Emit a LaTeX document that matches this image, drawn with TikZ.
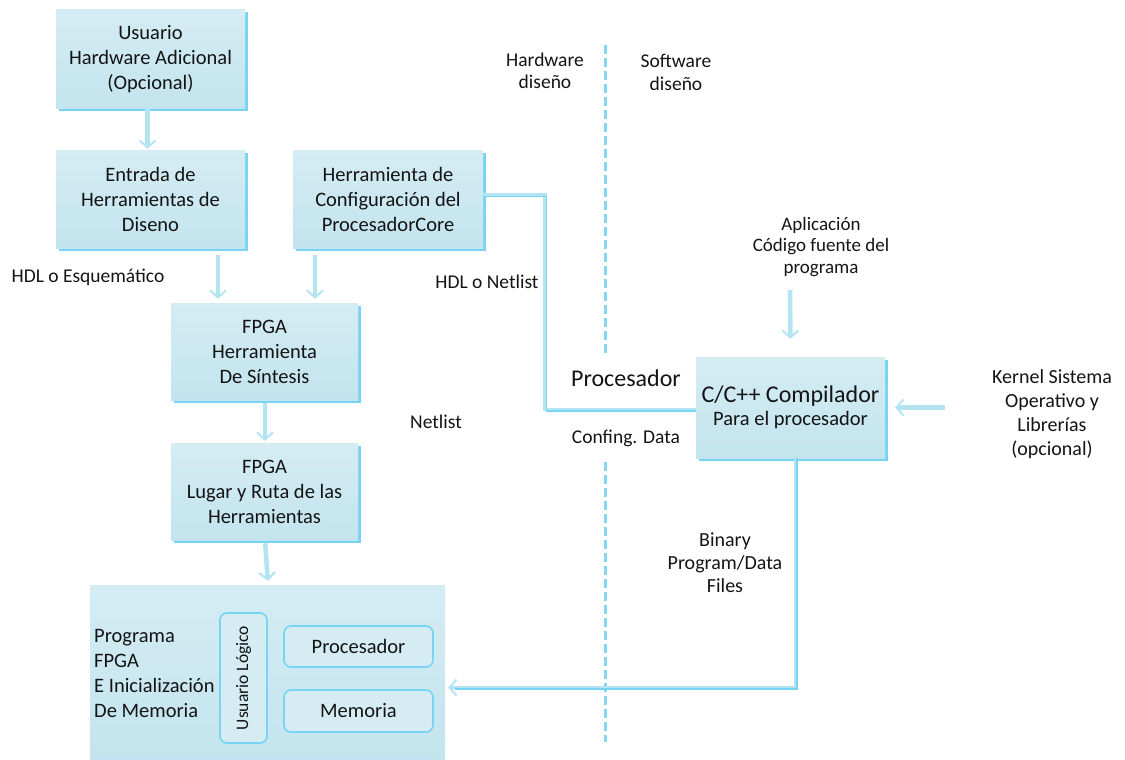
\documentclass[tikz,border=0pt]{standalone}
\usepackage{fontspec}
\setmainfont{Carlito}
\usetikzlibrary{arrows.meta,shadows,calc}
\definecolor{boxtop}{RGB}{213,236,243}
\definecolor{boxbot}{RGB}{195,228,238}
\definecolor{shblue}{RGB}{120,212,245}
\definecolor{arrpale}{RGB}{178,228,242}
\definecolor{arrbright}{RGB}{120,212,245}
\definecolor{txt}{RGB}{20,20,20}
\tikzset{
  blk/.style={top color=boxtop,bottom color=boxbot,draw=none,align=center,
    text=txt,font=\fontsize{20.5}{25}\selectfont,inner sep=0pt,
    drop shadow={shadow xshift=2.5pt,shadow yshift=-2.5pt,fill=shblue,opacity=1}},
  rbox/.style={fill=boxtop,draw=shblue,line width=1.6pt,rounded corners=7pt,
    align=center,text=txt,font=\fontsize{20.5}{25}\selectfont,inner sep=0pt},
  lbl/.style={align=center,text=txt,font=\fontsize{19.5}{22.5}\selectfont,inner sep=0pt},
  arr/.style={line width=4.5pt,draw=arrpale,
    -{Straight Barb[length=7pt,width=16pt,line width=2pt]}},
  conn/.style={line width=3.5pt,draw=arrpale},
  connin/.style={line width=1.5pt,draw=arrbright},
  divider/.style={line width=3pt,draw=arrbright!80!arrpale,dash pattern=on 9pt off 4pt}
}
\begin{document}
\begin{tikzpicture}[x=1pt,y=-1pt]
\useasboundingbox (0,0) rectangle (1125,760);

% dividers
\draw[divider] (605,45) -- (605,355);
\draw[divider] (605,462) -- (605,742);

% blocks
\node[blk,minimum width=189,minimum height=98] (b1) at (150.5,59) {Usuario\\Hardware Adicional\\(Opcional)};
\node[blk,minimum width=189,minimum height=98] (b2) at (150.5,199) {Entrada de\\Herramientas de\\Diseno};
\node[blk,minimum width=190,minimum height=98] (b3) at (388,199) {Herramienta de\\Configuración del\\ProcesadorCore};
\node[blk,minimum width=187,minimum height=97] (b4) at (264.5,351.5) {FPGA\\Herramienta\\De Síntesis};
\node[blk,minimum width=187,minimum height=97] (b5) at (264.5,491.5) {FPGA\\Lugar y Ruta de las\\Herramientas};
\node[top color=boxtop,bottom color=boxbot,draw=none,minimum width=355,minimum height=175,inner sep=0pt] (b6) at (267.5,672.5) {};
\node[blk,minimum width=189,minimum height=101] (comp) at (790.5,407.5)
  {{\fontsize{24}{27}\selectfont C/C++ Compilador}\\[-2pt]{\fontsize{20.5}{23}\selectfont Para el procesador}};

% inside big box
\node[align=left,anchor=west,text=txt,font=\fontsize{20.5}{25}\selectfont,inner sep=0pt] (prog) at (94,673.5)
  {Programa\\FPGA\\E Inicialización\\De Memoria};
\node[rbox,minimum width=47,minimum height=130] (ul) at (243.5,678) {};
\node[text=txt,font=\fontsize{17.5}{20}\selectfont,rotate=90,inner sep=0pt] (ult) at (ul.center) {Usuario Lógico};
\node[rbox,minimum width=149,minimum height=41] (proc) at (358.5,646.5) {Procesador};
\node[rbox,minimum width=149,minimum height=42] (mem) at (358.5,711) {Memoria};

% labels
\node[lbl] (hw) at (545,71) {Hardware\\diseño};
\node[lbl] (sw) at (676,72.5) {Software\\diseño};
\node[lbl] (hdl1) at (88,277) {HDL o Esquemático};
\node[lbl] (hdl2) at (487,282) {HDL o Netlist};
\node[lbl,font=\fontsize{19}{21.5}\selectfont] (app) at (821,247) {Aplicación\\Código fuente del\\programa};
\node[lbl,font=\fontsize{24}{26}\selectfont] (procl) at (626,378) {Procesador};
\node[lbl] (net) at (436,422) {Netlist};
\node[lbl] (conf) at (626,438) {Confing. Data};
\node[lbl,font=\fontsize{20}{24}\selectfont] (kern) at (1052,414) {Kernel Sistema\\Operativo y\\Librerías\\(opcional)};
\node[lbl,font=\fontsize{20}{23}\selectfont] (bin) at (725,563) {Binary\\Program/Data\\Files};

% arrows
\draw[arr,shorten >=1pt] ([xshift=-3pt]b1.south) -- ([xshift=-3pt]b2.north);
\draw[arr,shorten <=7pt,shorten >=4pt] ([xshift=67.5pt]b2.south) -- ([xshift=-46.5pt]b4.north);
\draw[arr,shorten <=7pt,shorten >=4pt] ([xshift=-73pt]b3.south) -- ([xshift=50.5pt]b4.north);
\draw[arr,shorten <=3pt,shorten >=2pt] ([xshift=0.5pt]b4.south) -- ([xshift=0.5pt]b5.north);
\draw[arr,shorten <=3pt,shorten >=4pt] ([xshift=0.5pt]b5.south) -- ([xshift=0.5pt]b6.north);
\draw[arr,shorten <=13pt,shorten >=18pt] ([xshift=-31pt]app.south) -- (comp.north);
\draw[arr,shorten <=47pt,shorten >=8pt] (kern.west |- comp.east) -- ([xshift=2pt]comp.east);

% connectors
\draw[conn] ([yshift=4pt]b3.east) -- ++(62,0) |- ([yshift=-2pt]comp.west);
\draw[connin] ([yshift=2.5pt]b3.east) -- ++(63.5,0) |- ([yshift=-3.5pt]comp.west);
\draw[conn,-{Straight Barb[length=7pt,width=16pt,line width=2pt]}]
  ([xshift=5pt]comp.south) |- ([yshift=-15pt,xshift=3pt]b6.east);
\draw[connin] ([xshift=6.5pt]comp.south) |- ([yshift=-16.5pt,xshift=10pt]b6.east);
\end{tikzpicture}
\end{document}
